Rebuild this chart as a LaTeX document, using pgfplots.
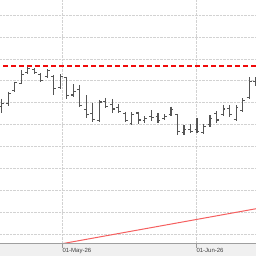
\documentclass[border=0pt]{standalone}
\usepackage{fontspec}
\setmainfont{Liberation Sans}
\usepackage{pgfplots}
\usepackage{pgfplotstable}
\pgfplotsset{compat=1.18}
\definecolor{levelred}{RGB}{240,10,10}
\definecolor{trendred}{RGB}{245,95,95}
\definecolor{barcol}{RGB}{85,85,85}
\pgfdeclareplotmark{otick}{\pgfpathmoveto{\pgfqpoint{-2.4pt}{0pt}}\pgfpathlineto{\pgfqpoint{0pt}{0pt}}\pgfusepathqstroke}
\pgfdeclareplotmark{ctick}{\pgfpathmoveto{\pgfqpoint{0pt}{0pt}}\pgfpathlineto{\pgfqpoint{2.4pt}{0pt}}\pgfusepathqstroke}
\pgfplotstableread{
k o h l c
0 129.2 130.91 127.66 129.9
1 129.8 132.57 129.32 132.2
2 132.8 134.84 132.57 134.6
3 134.48 137.5 134.25 136.36
4 137.0 138.11 136.52 137.8
5 137.6 137.89 136.52 137.0
6 136.5 136.75 134.84 135.0
7 135.9 137.66 135.61 137.4
8 135.98 136.36 131.82 133.34
9 133.5 136.52 133.11 136.0
10 135.7 135.98 130.91 131.6
11 131.8 134.2 131.43 132.6
12 133.0 134.09 128.98 129.5
13 128.4 131.7 126.48 127.3
14 127.5 130.0 125.75 126.2
15 126.0 130.68 125.57 130.2
16 130.3 131.14 128.8 129.2
17 129.6 130.91 127.73 128.6
18 129.0 129.77 127.66 128.0
19 127.6 127.95 125.61 125.9
20 125.4 127.84 125.0 127.3
21 127.7 128.02 125.23 126.1
22 126.0 126.93 125.45 126.5
23 126.8 128.3 125.91 126.6
24 126.9 127.73 125.45 125.9
25 126.4 127.39 126.14 126.9
26 127.3 129.16 126.93 128.5
27 127.3 127.5 122.61 123.4
28 123.2 124.89 122.61 123.9
29 123.9 125.23 123.11 123.4
30 124.0 126.52 123.18 123.4
31 123.3 125.23 122.95 124.6
32 125.0 127.16 124.55 126.5
33 127.5 128.11 125.45 126.1
34 127.3 129.55 126.98 128.6
35 128.8 129.43 126.7 127.3
36 126.2 129.43 125.91 129.0
37 128.3 131.07 127.84 130.5
38 131.3 135.8 130.84 134.9
39 134.9 135.84 133.75 135.6
}\ohlc
\begin{document}
\begin{tikzpicture}
\fill[gray!12] (0pt,-12pt) rectangle (256pt,0pt);
\begin{axis}[
  width=256pt, height=244pt, scale only axis,
  xmin=-0.261, xmax=39.06, ymin=97.886, ymax=153.41,
  axis line style={draw=none},
  xtick={9.263,29.846}, xticklabels={01-May-26,01-Jun-26},
  xtick pos=bottom, tick align=outside,
  major tick length=4pt,
  xtick style={draw=gray!80, line width=0.6pt},
  ytick={100,105,...,150}, yticklabels={},
  ytick style={draw=none},
  grid=major,
  grid style={densely dotted, gray!35, line width=0.8pt},
  xticklabel style={font=\fontsize{6}{7}\selectfont, text=black!75, anchor=north west, inner sep=0pt, xshift=0.3pt, yshift=-0.5pt},
]
\addplot[draw=none, mark=none, forget plot,
  error bars/.cd, y dir=minus, y explicit, error mark=none,
  error bar style={draw=barcol, solid, line width=1.1pt}]
  table[x=k, y=h, y error minus expr=\thisrow{h}-\thisrow{l}] {\ohlc};
\addplot[only marks, mark=otick, mark options={draw=barcol, solid, line width=1.1pt}] table[x=k, y=o] {\ohlc};
\addplot[only marks, mark=ctick, mark options={draw=barcol, solid, line width=1.1pt}] table[x=k, y=c] {\ohlc};
\addplot[draw=levelred, color=levelred, mark=none, line width=2.2pt, dash pattern=on 5pt off 3pt] coordinates {(-1,138.3) (40,138.3)};
\addplot[draw=trendred, color=trendred, mark=none, line width=1pt] coordinates {(9.263,97.95) (39.06,105.91)};
\end{axis}
\draw[gray!75, line width=1pt] (0pt,0pt) -- (256pt,0pt);
\pgfresetboundingbox
\useasboundingbox (0pt,-12pt) rectangle (256pt,244pt);
\end{tikzpicture}
\end{document}
